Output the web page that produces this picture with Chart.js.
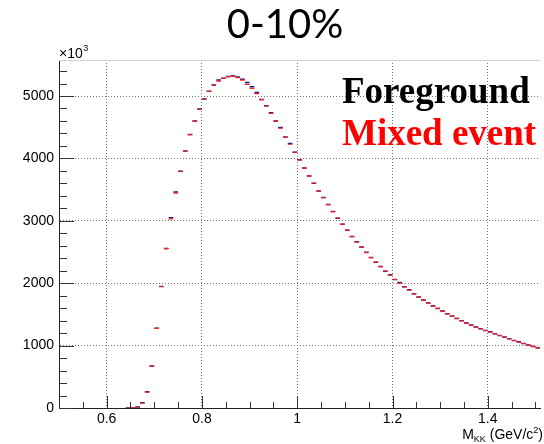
<!DOCTYPE html>
<html>
<head>
<meta charset="utf-8">
<script src="https://cdn.jsdelivr.net/npm/chart.js@4"></script>
<style>
  body { margin: 0; background: #fff; }
  #wrap { width: 544px; height: 444px; }
</style>
</head>
<body>
<div id="wrap"><canvas id="massChart" width="544" height="444"></canvas></div>
<script>
// ================== DATA ==================
// bin centres (GeV/c^2)
const binCenters = [
  0.645, 0.655, 0.665, 0.675, 0.685, 0.695, 0.705, 0.715, 0.725, 0.735,
  0.745, 0.755, 0.765, 0.775, 0.785, 0.795, 0.805, 0.815, 0.825, 0.835,
  0.845, 0.855, 0.865, 0.875, 0.885, 0.895, 0.905, 0.915, 0.925, 0.935,
  0.945, 0.955, 0.965, 0.975, 0.985, 0.995, 1.005, 1.015, 1.025, 1.035,
  1.045, 1.055, 1.065, 1.075, 1.085, 1.095, 1.105, 1.115, 1.125, 1.135,
  1.145, 1.155, 1.165, 1.175, 1.185, 1.195, 1.205, 1.215, 1.225, 1.235,
  1.245, 1.255, 1.265, 1.275, 1.285, 1.295, 1.305, 1.315, 1.325, 1.335,
  1.345, 1.355, 1.365, 1.375, 1.385, 1.395, 1.405, 1.415, 1.425, 1.435,
  1.445, 1.455, 1.465, 1.475, 1.485, 1.495, 1.505
];

// counts in units of 10^3
const mixedEvent = [
  0, 0, 16, 80, 256, 672, 1275, 1947, 2555, 3031,
  3442, 3794, 4119, 4380, 4600, 4792, 4952, 5075, 5176, 5240,
  5283, 5309, 5320, 5293, 5256, 5187, 5123, 5037, 4941, 4840,
  4723, 4600, 4483, 4344, 4227, 4099, 3975, 3845, 3720, 3602,
  3479, 3372, 3260, 3148, 3042, 2946, 2850, 2747, 2660, 2575,
  2491, 2411, 2337, 2267, 2193, 2129, 2059, 2001, 1942, 1889,
  1830, 1777, 1729, 1681, 1633, 1595, 1553, 1510, 1467, 1435,
  1398, 1361, 1329, 1297, 1270, 1242, 1217, 1190, 1162, 1137,
  1110, 1082, 1057, 1034, 1009, 986, 965
];

const foreground = [
  0, 0, 16, 84, 262, 672, 1280, 1947, 2555, 3050,
  3460, 3794, 4119, 4385, 4600, 4792, 4952, 5075, 5176, 5255,
  5283, 5312, 5325, 5305, 5270, 5215, 5150, 5055, 4945, 4845,
  4730, 4600, 4495, 4344, 4240, 4099, 3980, 3845, 3720, 3602,
  3479, 3372, 3260, 3148, 3042, 2946, 2850, 2747, 2665, 2580,
  2495, 2411, 2337, 2267, 2193, 2135, 2059, 2010, 1942, 1895,
  1830, 1777, 1729, 1681, 1633, 1595, 1553, 1510, 1475, 1435,
  1398, 1361, 1329, 1297, 1270, 1242, 1222, 1190, 1162, 1137,
  1110, 1082, 1062, 1034, 1009, 986, 965
];

// major ticks + labels
const xMajorTicks = [0.6, 0.8, 1.0, 1.2, 1.4];
const xMajorLabels = ["0.6", "0.8", "1", "1.2", "1.4"];
const yMajorTicks = [0, 1000, 2000, 3000, 4000, 5000];
const yMajorLabels = ["0", "1000", "2000", "3000", "4000", "5000"];

const toPoints = (ys) => binCenters.map((x, i) => ({ x: x, y: ys[i] }));

// ================== HELPERS ==================
function isMajor(value, list) {
  return list.some(v => Math.abs(v - value) < 1e-6);
}

// minor ticks: 4 per 0.2 on x, 5 per 1000 on y
function buildTicks(scale, minorStep) {
  const ticks = [];
  const n = Math.floor((scale.max - scale.min) / minorStep + 1e-6);
  const start = Math.ceil(scale.min / minorStep - 1e-6) * minorStep;
  for (let i = 0; i <= n; i++) {
    const v = Math.round((start + i * minorStep) * 1e6) / 1e6;
    if (v <= scale.max) ticks.push({ value: v });
  }
  scale.ticks = ticks;
}

// ROOT style: ticks drawn inside the frame, texts on top
const rootStyle = {
  id: "rootStyle",
  afterDraw(chart) {
    const ctx = chart.ctx;
    const area = chart.chartArea;
    const xs = chart.scales.x;
    const ys = chart.scales.y;

    ctx.save();
    // frame top
    ctx.strokeStyle = "#d4d4d4";
    ctx.lineWidth = 1;
    ctx.beginPath();
    ctx.moveTo(area.left, area.top + 0.5);
    ctx.lineTo(area.right, area.top + 0.5);
    ctx.stroke();

    // inner tick marks
    ctx.strokeStyle = "#333";
    ctx.beginPath();
    xs.ticks.forEach(t => {
      const px = Math.round(xs.getPixelForValue(t.value)) + 0.5;
      const len = isMajor(t.value, xMajorTicks) ? 12 : 6;
      ctx.moveTo(px, area.bottom);
      ctx.lineTo(px, area.bottom - len);
    });
    ys.ticks.forEach(t => {
      const py = Math.round(ys.getPixelForValue(t.value)) + 0.5;
      const len = isMajor(t.value, yMajorTicks) ? 15 : 8;
      ctx.moveTo(area.left, py);
      ctx.lineTo(area.left + len, py);
    });
    ctx.stroke();

    // title
    ctx.fillStyle = "#000";
    ctx.textAlign = "center";
    ctx.textBaseline = "alphabetic";
    ctx.font = '40px Lato, "Open Sans", sans-serif';
    ctx.fillText("0-10%", 285, 38);

    // legend texts
    ctx.textAlign = "left";
    ctx.font = 'bold 37px "Liberation Serif", serif';
    ctx.fillStyle = "#000";
    ctx.fillText("Foreground", 342, 103);
    ctx.fillStyle = "#ff0000";
    ctx.fillText("Mixed event", 342, 145);

    // x10^3 exponent
    ctx.fillStyle = "#000";
    ctx.font = '14px "Liberation Sans", Arial, sans-serif';
    ctx.fillText("\u00d710", 59, 58);
    const w10 = ctx.measureText("\u00d710").width;
    ctx.font = '9px "Liberation Sans", Arial, sans-serif';
    ctx.fillText("3", 59 + w10 + 0.5, 51);

    // x axis title: M_KK (GeV/c^2), right aligned
    const parts = [
      { t: "M", f: 14, dy: 0 },
      { t: "KK", f: 9, dy: 3 },
      { t: " (GeV/c", f: 14, dy: 0 },
      { t: "2", f: 9, dy: -6 },
      { t: ")", f: 14, dy: 0 }
    ];
    let total = 0;
    parts.forEach(p => {
      ctx.font = p.f + 'px "Liberation Sans", Arial, sans-serif';
      p.w = ctx.measureText(p.t).width;
      total += p.w;
    });
    let cx = 543 - total;
    parts.forEach(p => {
      ctx.font = p.f + 'px "Liberation Sans", Arial, sans-serif';
      ctx.fillText(p.t, cx, 439 + p.dy);
      cx += p.w;
    });
    ctx.restore();
  }
};

// ================== CHART ==================
const ctx = document.getElementById("massChart");

new Chart(ctx, {
  type: "scatter",
  data: {
    datasets: [
      {
        label: "Mixed event",
        data: toPoints(mixedEvent),
        pointStyle: "line",
        radius: 2.3,
        borderWidth: 1.2,
        borderColor: "#ff1a1a",
        backgroundColor: "#ff1a1a",
        order: 0
      },
      {
        label: "Foreground",
        data: toPoints(foreground),
        pointStyle: "line",
        radius: 2.3,
        borderWidth: 1.5,
        borderColor: "#1c1c8a",
        backgroundColor: "#1c1c8a",
        order: 1
      }
    ]
  },
  options: {
    responsive: false,
    animation: false,
    layout: { padding: { top: 60, right: 0, left: 0, bottom: 0 } },
    plugins: {
      legend: { display: false },
      title: { display: false },
      tooltip: { enabled: false }
    },
    elements: { point: { hoverRadius: 2.3 } },
    scales: {
      x: {
        type: "linear",
        min: 0.5,
        max: 1.51,
        afterBuildTicks(scale) { buildTicks(scale, 0.05); },
        afterFit(scale) { scale.height = 36; },
        ticks: {
          autoSkip: false,
          maxRotation: 0,
          padding: 3,
          color: "#000",
          font: { family: '"Liberation Sans", Arial, sans-serif', size: 14 },
          callback(value) {
            const i = xMajorTicks.findIndex(v => Math.abs(v - value) < 1e-6);
            return i >= 0 ? xMajorLabels[i] : "";
          }
        },
        grid: {
          drawTicks: false,
          lineWidth: 1,
          color: (c) => (c.tick && isMajor(c.tick.value, xMajorTicks) ? "#707070" : "rgba(0,0,0,0)")
        },
        border: { display: true, color: "#222", width: 1, dash: [1, 2] }
      },
      y: {
        type: "linear",
        min: 0,
        max: 5577,
        afterBuildTicks(scale) { buildTicks(scale, 200); },
        afterFit(scale) { scale.width = 59; },
        ticks: {
          autoSkip: false,
          padding: 5,
          color: "#000",
          font: { family: '"Liberation Sans", Arial, sans-serif', size: 14 },
          callback(value) {
            const i = yMajorTicks.findIndex(v => Math.abs(v - value) < 1e-6);
            return i >= 0 ? yMajorLabels[i] : "";
          }
        },
        grid: {
          drawTicks: false,
          lineWidth: 1,
          color: (c) => (c.tick && c.tick.value > 0 && isMajor(c.tick.value, yMajorTicks) ? "#707070" : "rgba(0,0,0,0)")
        },
        border: { display: true, color: "#222", width: 1, dash: [1, 2] }
      }
    }
  },
  plugins: [rootStyle]
});
</script>
</body>
</html>
